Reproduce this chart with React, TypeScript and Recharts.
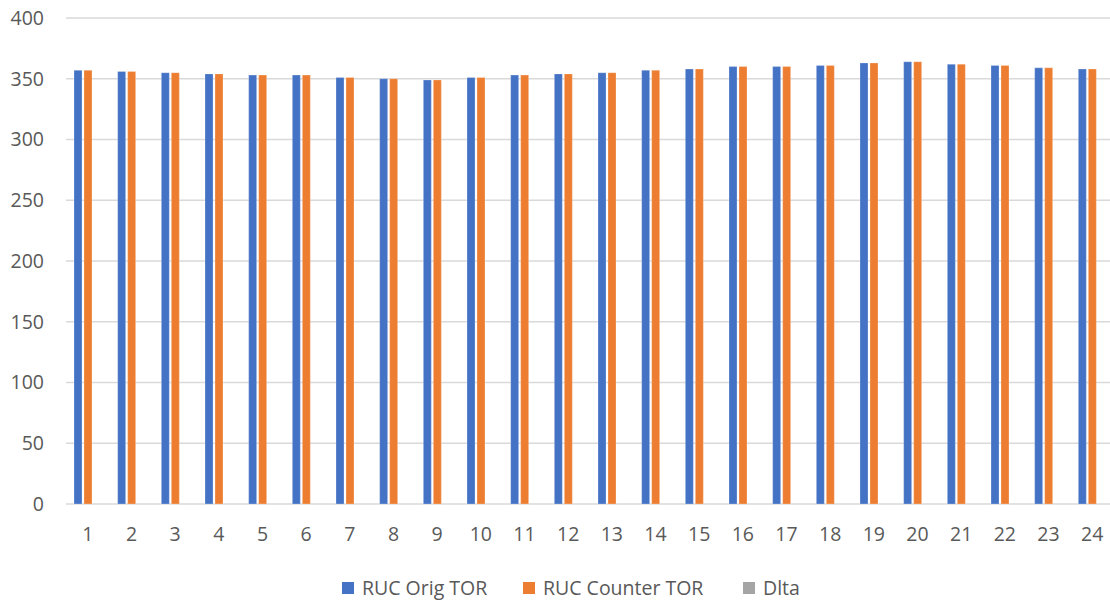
import React from 'react';
import { BarChart, Bar, XAxis, YAxis, CartesianGrid, Legend } from 'recharts';

// hourly RUC values, hours 1..24
const hours = ['1', '2', '3', '4', '5', '6', '7', '8', '9', '10', '11', '12', '13', '14', '15', '16', '17', '18', '19', '20', '21', '22', '23', '24'];
const origTor = [357, 356, 355, 354, 353, 353, 351, 350, 349, 351, 353, 354, 355, 357, 358, 360, 360, 361, 363, 364, 362, 361, 359, 358];
const counterTor = [357, 356, 355, 354, 353, 353, 351, 350, 349, 351, 353, 354, 355, 357, 358, 360, 360, 361, 363, 364, 362, 361, 359, 358];
const dlta = [0, 0, 0, 0, 0, 0, 0, 0, 0, 0, 0, 0, 0, 0, 0, 0, 0, 0, 0, 0, 0, 0, 0, 0];
const yTicks = [0, 50, 100, 150, 200, 250, 300, 350, 400];

const series = [
  { key: 'orig', name: 'RUC Orig TOR', color: '#4472C4', width: 181 },
  { key: 'counter', name: 'RUC Counter TOR', color: '#ED7D31', width: 220 },
  { key: 'dlta', name: 'Dlta', color: '#A5A5A5', width: 80 },
];

const data = hours.map((h, i) => ({
  hour: h,
  orig: origTor[i],
  counter: counterTor[i],
  dlta: dlta[i],
}));

const FONT = '"Open Sans", "Noto Sans", sans-serif';

const LegendRow = () => (
  <div
    style={{
      display: 'flex',
      alignItems: 'center',
      marginLeft: 342,
      height: 28,
      lineHeight: '28px',
      fontFamily: FONT,
      fontSize: 19.5,
      color: '#595959',
    }}
  >
    {series.map((s) => (
      <div key={s.key} style={{ display: 'flex', alignItems: 'center', width: s.width, whiteSpace: 'nowrap' }}>
        <div style={{ width: 12, height: 12, background: s.color, marginRight: 8, flex: 'none' }} />
        <span>{s.name}</span>
      </div>
    ))}
  </div>
);

export default function App() {
  return (
    <div style={{ position: 'absolute', top: 0, left: 0, width: 1110, height: 602, overflow: 'hidden', background: '#fff' }}>
      <BarChart
        width={1114}
        height={602}
        data={data}
        margin={{ top: 18, right: 0, left: 0, bottom: 0 }}
        barSize={8}
        barGap={2}
      >
        <CartesianGrid vertical={false} stroke="#d9d9d9" strokeWidth={1.5} />
        <XAxis
          dataKey="hour"
          height={50}
          axisLine={false}
          tickLine={false}
          tickSize={0}
          tickMargin={23}
          tick={{ fill: '#595959', fontSize: 19.5, fontFamily: FONT }}
        />
        <YAxis
          width={66}
          domain={[0, 400]}
          ticks={yTicks}
          axisLine={false}
          tickLine={false}
          tickSize={0}
          tickMargin={22}
          tick={{ fill: '#595959', fontSize: 19.5, fontFamily: FONT }}
        />
        <Legend
          verticalAlign="bottom"
          height={48}
          wrapperStyle={{ top: 574, bottom: 'auto', left: 0 }}
          content={() => <LegendRow />}
        />
        {series.map((s) => (
          <Bar
            key={s.key}
            dataKey={s.key}
            name={s.name}
            fill={s.color}
            stroke="#ffffff"
            strokeOpacity={0.5}
            strokeWidth={0.5}
            isAnimationActive={false}
          />
        ))}
      </BarChart>
    </div>
  );
}
